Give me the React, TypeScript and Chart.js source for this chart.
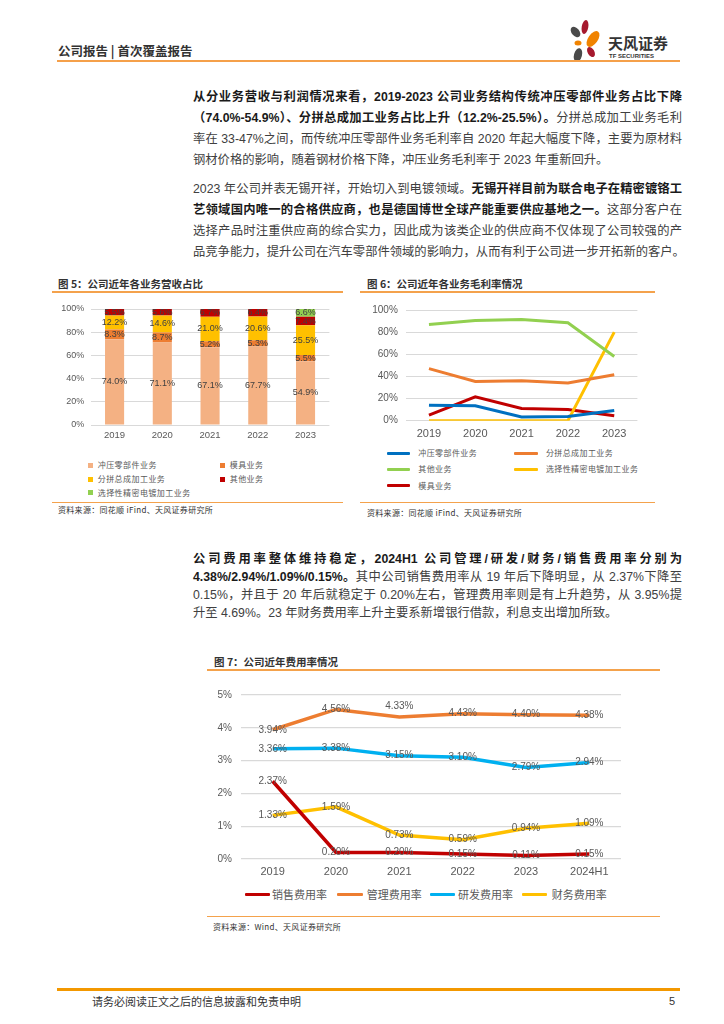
import React, { useEffect, useRef } from "react";
import { Chart, registerables } from "chart.js";
Chart.register(...registerables);

// ---------- DATA ----------
const years5 = ["2019", "2020", "2021", "2022", "2023"];
const shareStamping = [74.0, 71.1, 67.1, 67.7, 54.9];
const shareMold = [8.3, 8.7, 5.2, 5.3, 5.5];
const shareAssembly = [12.2, 14.6, 21.0, 20.6, 25.5];
const shareOther = [5.5, 5.6, 6.7, 6.4, 7.4];
const sharePlating = [0, 0, 0, 0, 6.6];

const years6 = ["2019", "2020", "2021", "2022", "2023"];
const gmStamping = [14, 13.4, 3.3, 3.9, 9.3];
const gmAssembly = [47, 35.5, 36, 34, 41.5];
const gmOther = [87, 90.5, 91.5, 88.5, 58];
const gmPlating = [0, 0, 0, 0, 80];
const gmMold = [5, 21.5, 11, 10.2, 4.5];

const years7 = ["2019", "2020", "2021", "2022", "2023", "2024H1"];
const rateSales = [2.37, 0.2, 0.2, 0.15, 0.11, 0.15];
const rateAdmin = [3.94, 4.56, 4.33, 4.43, 4.4, 4.38];
const rateRD = [3.36, 3.38, 3.15, 3.1, 2.79, 2.94];
const rateFin = [1.33, 1.59, 0.73, 0.59, 0.94, 1.09];

const pctTicks100 = [0, 20, 40, 60, 80, 100];
const pctTicks5 = [0, 1, 2, 3, 4, 5];

// ---------- STYLE ----------
const CJK = "'Noto Sans CJK SC', 'Noto Sans', sans-serif";
const BODY = "'Liberation Sans', 'Noto Sans CJK SC', sans-serif";
const CHART_FONT = "'Liberation Sans', 'Noto Sans CJK SC', sans-serif";
const GRAY = "#595959";
const GRID = "#D9D9D9";
const ORANGE_LINE = "#F4A24C";
const adminLabelDy = [0, 0, -11, 0, 0, 0];

function labelPlugin(mode: "bar" | "line", font: string, color: string, offsets?: Record<number, number[]>) {
  return {
    id: "valueLabels",
    afterDatasetsDraw(chart: any) {
      const ctx = chart.ctx;
      ctx.save();
      ctx.font = font;
      ctx.fillStyle = color;
      ctx.textAlign = "center";
      ctx.textBaseline = "middle";
      chart.data.datasets.forEach((ds: any, di: number) => {
        const meta = chart.getDatasetMeta(di);
        meta.data.forEach((el: any, i: number) => {
          const v = ds.data[i];
          if (!v) return;
          const x = el.x;
          let y = el.y;
          if (mode === "bar") y = (el.y + el.base) / 2;
          const dy = offsets && offsets[di] ? offsets[di][i] : 0;
          const txt = mode === "bar" ? v.toFixed(1) + "%" : v.toFixed(2) + "%";
          ctx.fillText(txt, x, y + dy);
        });
      });
      ctx.restore();
    },
  };
}

function useChart(ref: React.RefObject<HTMLCanvasElement>, make: () => any) {
  useEffect(() => {
    if (!ref.current) return;
    const c = new Chart(ref.current, make());
    return () => c.destroy();
  }, []);
}

function BarChart5() {
  const ref = useRef<HTMLCanvasElement>(null);
  useChart(ref, () => ({
    type: "bar",
    data: {
      labels: years5,
      datasets: [
        { label: "冲压零部件业务", data: shareStamping, backgroundColor: "#F4B183" },
        { label: "模具业务", data: shareMold, backgroundColor: "#ED7D31" },
        { label: "分拼总成加工业务", data: shareAssembly, backgroundColor: "#FFC000" },
        { label: "其他业务", data: shareOther, backgroundColor: "#C00000" },
        { label: "选择性精密电镀加工业务", data: sharePlating, backgroundColor: "#92D050" },
      ].map((d) => ({ ...d, barPercentage: 0.4, categoryPercentage: 1, borderWidth: 0 })),
    },
    options: {
      responsive: false,
      animation: false,
      layout: { padding: { top: 13, right: 15.6, left: 0, bottom: 0 } },
      plugins: { legend: { display: false }, tooltip: { enabled: false } },
      scales: {
        x: {
          stacked: true,
          grid: { display: false, drawTicks: false },
          border: { display: false },
          ticks: { color: GRAY, font: { family: CHART_FONT, size: 9.5 }, padding: 5 },
          afterFit: (s: any) => { s.height = 20; },
        },
        y: {
          stacked: true,
          min: 0,
          max: 100,
          afterBuildTicks: (s: any) => { s.ticks = pctTicks100.map((v) => ({ value: v })); },
          ticks: { color: GRAY, font: { family: CHART_FONT, size: 9 }, padding: 6.5, callback: (v: any) => v + "%" },
          grid: { color: GRID, drawTicks: false },
          border: { display: false },
          afterFit: (s: any) => { s.width = 38.7; },
        },
      },
    },
    plugins: [labelPlugin("bar", `9px ${CHART_FONT}`, "#404040")],
  }));
  return <canvas ref={ref} width={293} height={149} style={{ position: "absolute", left: 52, top: 296 }} />;
}

function LineChart6() {
  const ref = useRef<HTMLCanvasElement>(null);
  useChart(ref, () => ({
    type: "line",
    data: {
      labels: years6,
      datasets: [
        { label: "冲压零部件业务", data: gmStamping, borderColor: "#0070C0" },
        { label: "分拼总成加工业务", data: gmAssembly, borderColor: "#ED7D31" },
        { label: "其他业务", data: gmOther, borderColor: "#92D050" },
        { label: "选择性精密电镀加工业务", data: gmPlating, borderColor: "#FFC000" },
        { label: "模具业务", data: gmMold, borderColor: "#C00000" },
      ].map((d) => ({ ...d, borderWidth: 3, pointRadius: 0, tension: 0, fill: false })),
    },
    options: {
      responsive: false,
      animation: false,
      layout: { padding: { top: 13, right: 17.6, left: 0, bottom: 0 } },
      plugins: { legend: { display: false }, tooltip: { enabled: false } },
      scales: {
        x: {
          offset: true,
          grid: { display: false, drawTicks: false },
          border: { display: false },
          ticks: { color: GRAY, font: { family: CHART_FONT, size: 11 }, padding: 6.5 },
          afterFit: (s: any) => { s.height = 24.3; },
        },
        y: {
          min: 0,
          max: 100,
          afterBuildTicks: (s: any) => { s.ticks = pctTicks100.map((v) => ({ value: v })); },
          ticks: { color: GRAY, font: { family: CHART_FONT, size: 10 }, padding: 8, callback: (v: any) => v + "%" },
          grid: { color: GRID, drawTicks: false },
          border: { display: false },
          afterFit: (s: any) => { s.width = 45.8; },
        },
      },
    },
  }));
  return <canvas ref={ref} width={295} height={149} style={{ position: "absolute", left: 360, top: 296 }} />;
}

function LineChart7() {
  const ref = useRef<HTMLCanvasElement>(null);
  useChart(ref, () => ({
    type: "line",
    data: {
      labels: years7,
      datasets: [
        { label: "销售费用率", data: rateSales, borderColor: "#C00000" },
        { label: "管理费用率", data: rateAdmin, borderColor: "#ED7D31" },
        { label: "研发费用率", data: rateRD, borderColor: "#00B0F0" },
        { label: "财务费用率", data: rateFin, borderColor: "#FFC000" },
      ].map((d) => ({ ...d, borderWidth: 3.5, pointRadius: 0, tension: 0, fill: false })),
    },
    options: {
      responsive: false,
      animation: false,
      layout: { padding: { top: 12.7, right: 39, left: 0, bottom: 0 } },
      plugins: { legend: { display: false }, tooltip: { enabled: false } },
      scales: {
        x: {
          offset: true,
          grid: { display: false, drawTicks: false },
          border: { display: false },
          ticks: { color: GRAY, font: { family: CHART_FONT, size: 11 }, padding: 6 },
          afterFit: (s: any) => { s.height = 21; },
        },
        y: {
          min: 0,
          max: 5,
          afterBuildTicks: (s: any) => { s.ticks = pctTicks5.map((v) => ({ value: v })); },
          ticks: { color: GRAY, font: { family: CHART_FONT, size: 10 }, padding: 9, callback: (v: any) => v + "%" },
          grid: { color: GRID, drawTicks: false, lineWidth: 1.3 },
          border: { display: false },
          afterFit: (s: any) => { s.width = 35; },
        },
      },
    },
    plugins: [labelPlugin("line", `10px ${CHART_FONT}`, GRAY, { 1: adminLabelDy })],
  }));
  return <canvas ref={ref} width={454} height={200} style={{ position: "absolute", left: 206, top: 680 }} />;
}

// ---------- PAGE PIECES ----------
function TextLine({ y, lh, last, children, size = 12.3 }: any) {
  return (
    <div
      style={{
        position: "absolute",
        left: 193,
        top: y - lh / 2,
        width: 489,
        height: lh,
        lineHeight: lh + "px",
        fontSize: size,
        fontFamily: BODY,
        color: "#404040",
        whiteSpace: "nowrap",
        textAlign: "justify",
        textAlignLast: last ? "left" : "justify",
      } as any}
    >
      {children}
    </div>
  );
}

const B = ({ children }: any) => <b style={{ color: "#1a1a1a", fontWeight: 700 }}>{children}</b>;

function Abs({ x, y, size, color = "#333", bold, children, family = CJK, spacing = 0 }: any) {
  return (
    <div
      style={{
        position: "absolute",
        left: x,
        top: y - size * 0.75,
        fontSize: size,
        lineHeight: size * 1.5 + "px",
        fontFamily: family,
        color,
        fontWeight: bold ? 700 : 400,
        whiteSpace: "nowrap",
        letterSpacing: spacing,
      }}
    >
      {children}
    </div>
  );
}

function HLine({ x1, x2, y, w = 2, color = ORANGE_LINE }: any) {
  return <div style={{ position: "absolute", left: x1, top: y - w / 2, width: x2 - x1, height: w, background: color }} />;
}

function SquareItem({ x, y, color, label }: any) {
  return (
    <>
      <div style={{ position: "absolute", left: x - 2.5, top: y - 2.5, width: 5, height: 5, background: color }} />
      <Abs x={x + 7.7} y={y} size={8} color={GRAY} spacing={0.45}>{label}</Abs>
    </>
  );
}

function LineItem({ x, y, len, color, label, size, gap, thick = 3 }: any) {
  return (
    <>
      <div style={{ position: "absolute", left: x, top: y - thick / 2, width: len, height: thick, background: color, borderRadius: 1 }} />
      <Abs x={x + len + gap} y={y} size={size} color={GRAY} spacing={size < 10 ? 0.4 : 0}>{label}</Abs>
    </>
  );
}

export default function App() {
  return (
    <div style={{ position: "absolute", left: 0, top: 0, width: 724, height: 1024, background: "#fff", overflow: "hidden" }}>
      {/* header */}
      <Abs x={58} y={51} size={12.5} bold color="#333">公司报告 | 首次覆盖报告</Abs>
      <svg width={724} height={80} style={{ position: "absolute", left: 0, top: 0 }}>
        <ellipse cx={575.5} cy={32} rx={3.8} ry={6} transform="rotate(-40 575.5 32)" fill="#4a4a4a" />
        <ellipse cx={585} cy={27} rx={3.3} ry={7} transform="rotate(10 585 27)" fill="#A6192E" />
        <ellipse cx={593} cy={39} rx={4.8} ry={9} transform="rotate(35 593 39)" fill="#F08300" />
        <ellipse cx={578} cy={43} rx={3.5} ry={2.5} fill="#F08300" />
        <ellipse cx={591} cy={52} rx={3.3} ry={5.5} transform="rotate(-30 591 52)" fill="#A6192E" />
        <ellipse cx={578} cy={55} rx={4} ry={7} transform="rotate(15 578 55)" fill="#4a4a4a" />
      </svg>
      <Abs x={608} y={43} size={15} bold color="#333" spacing={0}>天风证券</Abs>
      <Abs x={609} y={56.5} size={6} bold color="#333" family="'Liberation Sans', sans-serif">TF SECURITIES</Abs>
      <HLine x1={57} x2={680} y={61} w={2} color="#F5A04A" />

      {/* paragraph 1 */}
      <TextLine y={97} lh={21}><B>从分业务营收与利润情况来看，2019-2023 公司业务结构传统冲压零部件业务占比下降</B></TextLine>
      <TextLine y={118} lh={21}><B>（74.0%-54.9%）、分拼总成加工业务占比上升（12.2%-25.5%）。</B>分拼总成加工业务毛利</TextLine>
      <TextLine y={139} lh={21}>率在 33-47%之间，而传统冲压零部件业务毛利率自 2020 年起大幅度下降，主要为原材料</TextLine>
      <TextLine y={160} lh={21} last>钢材价格的影响，随着钢材价格下降，冲压业务毛利率于 2023 年重新回升。</TextLine>

      {/* paragraph 2 */}
      <TextLine y={189} lh={21}>2023 年公司并表无锡开祥，开始切入到电镀领域。<B>无锡开祥目前为联合电子在精密镀铬工</B></TextLine>
      <TextLine y={210} lh={21}><B>艺领域国内唯一的合格供应商，也是德国博世全球产能重要供应基地之一。</B>这部分客户在</TextLine>
      <TextLine y={231} lh={21}>选择产品时注重供应商的综合实力，因此成为该类企业的供应商不仅体现了公司较强的产</TextLine>
      <TextLine y={252} lh={21}>品竞争能力，提升公司在汽车零部件领域的影响力，从而有利于公司进一步开拓新的客户。</TextLine>

      {/* figure 5 */}
      <Abs x={58} y={284} size={10.5} bold color="#333">图 5：公司近年各业务营收占比</Abs>
      <HLine x1={52} x2={343} y={292} w={1.5} />
      <BarChart5 />
      <SquareItem x={90} y={465} color="#F4B183" label="冲压零部件业务" />
      <SquareItem x={222} y={465} color="#ED7D31" label="模具业务" />
      <SquareItem x={90} y={479} color="#FFC000" label="分拼总成加工业务" />
      <SquareItem x={222} y={479} color="#C00000" label="其他业务" />
      <SquareItem x={90} y={492.7} color="#92D050" label="选择性精密电镀加工业务" />
      <HLine x1={52} x2={343} y={502.3} w={1.5} />
      <Abs x={58} y={510} size={8} color="#333" spacing={0.3}>资料来源：同花顺 iFind、天风证券研究所</Abs>

      {/* figure 6 */}
      <Abs x={367} y={284} size={10.5} bold color="#333">图 6：公司近年各业务毛利率情况</Abs>
      <HLine x1={360} x2={655} y={292} w={1.5} />
      <LineChart6 />
      <LineItem x={386.7} y={453.3} len={23.3} gap={8.3} size={8} color="#0070C0" label="冲压零部件业务" />
      <LineItem x={514.3} y={453.3} len={23.3} gap={8.3} size={8} color="#ED7D31" label="分拼总成加工业务" />
      <LineItem x={386.7} y={469.3} len={23.3} gap={8.3} size={8} color="#92D050" label="其他业务" />
      <LineItem x={514.3} y={469.3} len={23.3} gap={8.3} size={8} color="#FFC000" label="选择性精密电镀加工业务" />
      <LineItem x={386.7} y={485.7} len={23.3} gap={8.3} size={8} color="#C00000" label="模具业务" />
      <HLine x1={360} x2={655} y={502.3} w={1.5} />
      <Abs x={367} y={513} size={8} color="#333" spacing={0.3}>资料来源：同花顺 iFind、天风证券研究所</Abs>

      {/* paragraph 3 */}
      <TextLine y={559} lh={18}><B>公司费用率整体维持稳定，2024H1 公司管理/研发/财务/销售费用率分别为</B></TextLine>
      <TextLine y={577} lh={18}><B>4.38%/2.94%/1.09%/0.15%。</B>其中公司销售费用率从 19 年后下降明显，从 2.37%下降至</TextLine>
      <TextLine y={595} lh={18}>0.15%，并且于 20 年后就稳定于 0.20%左右，管理费用率则是有上升趋势，从 3.95%提</TextLine>
      <TextLine y={613} lh={18} last>升至 4.69%。23 年财务费用率上升主要系新增银行借款，利息支出增加所致。</TextLine>

      {/* figure 7 */}
      <Abs x={214} y={662} size={10.5} bold color="#333">图 7：公司近年费用率情况</Abs>
      <HLine x1={207} x2={660} y={670} w={1.5} />
      <LineChart7 />
      <LineItem x={245} y={894} len={25} gap={2} size={11} color="#C00000" label="销售费用率" />
      <LineItem x={336.7} y={894} len={26} gap={4} size={11} color="#ED7D31" label="管理费用率" />
      <LineItem x={430} y={894} len={25} gap={3} size={11} color="#00B0F0" label="研发费用率" />
      <LineItem x={521.7} y={894} len={25} gap={5} size={11} color="#FFC000" label="财务费用率" />
      <HLine x1={207} x2={660} y={916.7} w={1.5} />
      <Abs x={213} y={927} size={8} color="#333" spacing={0.3}>资料来源：Wind、天风证券研究所</Abs>

      {/* footer */}
      <HLine x1={57} x2={680} y={989.5} w={2.5} color="#F39800" />
      <Abs x={92} y={1001} size={11} color="#333">请务必阅读正文之后的信息披露和免责申明</Abs>
      <Abs x={669} y={1001} size={11} color="#333" family="'Liberation Sans', sans-serif">5</Abs>
    </div>
  );
}
